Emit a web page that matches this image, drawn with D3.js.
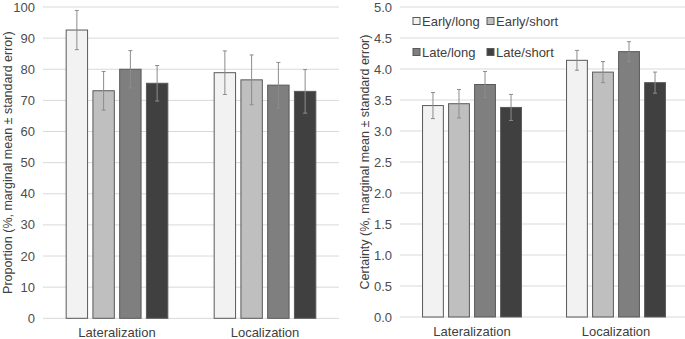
<!DOCTYPE html>
<html>
<head>
<meta charset="utf-8">
<script src="https://cdn.jsdelivr.net/npm/d3@7"></script>
<style>
  body { margin: 0; background: #fff; }
  text { font-family: "Liberation Sans", Arial, sans-serif; }
</style>
</head>
<body>
<div id="chart"></div>
<script>
// data
var categories = ["Lateralization", "Localization"];
var series = ["Early/long", "Early/short", "Late/long", "Late/short"];
var proportionMean = [[92.6, 73.1, 80.0, 75.5], [78.9, 76.6, 74.9, 72.9]];
var proportionSE = [[6.3, 6.2, 6.0, 5.7], [7.0, 8.0, 7.3, 7.0]];
var certaintyMean = [[3.41, 3.44, 3.75, 3.38], [4.14, 3.95, 4.28, 3.78]];
var certaintySE = [[0.21, 0.23, 0.21, 0.21], [0.16, 0.17, 0.16, 0.17]];
var proportionTicks = [0, 10, 20, 30, 40, 50, 60, 70, 80, 90, 100];
var certaintyTicks = [0, 0.5, 1, 1.5, 2, 2.5, 3, 3.5, 4, 4.5, 5];

var fills = ["#f2f2f2", "#bfbfbf", "#7f7f7f", "#404040"];

var svg = d3.select("#chart").append("svg")
  .attr("width", 685)
  .attr("height", 339);

function drawPanel(opts) {
  var g = svg.append("g");

  var y = d3.scaleLinear().domain(opts.domain).range([opts.bottom, opts.top]);
  var x0 = d3.scaleBand().domain(categories).range([opts.left, opts.right]);
  var bw = x0.bandwidth();
  var x1 = d3.scaleBand().domain(series)
    .range([bw * 0.1385, bw * 0.8615])
    .paddingInner(0.2).paddingOuter(0.1);

  // gridlines
  g.selectAll(".grid")
    .data(opts.ticks).enter()
    .append("line")
      .attr("x1", opts.left)
      .attr("x2", opts.right)
      .attr("y1", function(d) { return y(d); })
      .attr("y2", function(d) { return y(d); })
      .style("stroke", "#d9d9d9")
      .style("stroke-width", 1);

  // y tick labels
  g.selectAll(".ylab")
    .data(opts.ticks).enter()
    .append("text")
      .attr("x", opts.left - 8)
      .attr("y", function(d) { return y(d); })
      .attr("dy", "0.35em")
      .attr("text-anchor", "end")
      .style("font-size", "13px")
      .style("fill", "#4d4d4d")
      .text(opts.fmt);

  // bars
  var groups = g.selectAll(".grp")
    .data(categories).enter()
    .append("g")
      .attr("transform", function(d) { return "translate(" + x0(d) + ",0)"; });

  function rows(c, i) {
    return series.map(function(s, j) {
      return { s: s, j: j, v: opts.mean[i][j], e: opts.se[i][j] };
    });
  }

  groups.selectAll("rect")
    .data(rows).enter()
    .append("rect")
      .attr("x", function(d) { return x1(d.s); })
      .attr("width", x1.bandwidth())
      .attr("y", function(d) { return y(d.v); })
      .attr("height", function(d) { return y(opts.domain[0]) - y(d.v); })
      .style("fill", function(d) { return fills[d.j]; })
      .style("stroke", "#595959")
      .style("stroke-width", 1);

  // error bars
  var eb = groups.selectAll(".err")
    .data(rows).enter()
    .append("g")
      .attr("transform", function(d) { return "translate(" + (x1(d.s) + x1.bandwidth() / 2) + ",0)"; });

  eb.append("line")
    .attr("y1", function(d) { return y(d.v - d.e); })
    .attr("y2", function(d) { return y(d.v + d.e); })
    .style("stroke", "#8c8c8c").style("stroke-width", 1);
  eb.append("line")
    .attr("x1", -2).attr("x2", 2)
    .attr("y1", function(d) { return y(d.v + d.e); })
    .attr("y2", function(d) { return y(d.v + d.e); })
    .style("stroke", "#8c8c8c").style("stroke-width", 1);
  eb.append("line")
    .attr("x1", -2).attr("x2", 2)
    .attr("y1", function(d) { return y(d.v - d.e); })
    .attr("y2", function(d) { return y(d.v - d.e); })
    .style("stroke", "#8c8c8c").style("stroke-width", 1);

  // category labels
  g.selectAll(".xlab")
    .data(categories).enter()
    .append("text")
      .attr("x", function(d) { return x0(d) + bw / 2; })
      .attr("y", opts.bottom + 19)
      .attr("text-anchor", "middle")
      .style("font-size", "13px")
      .style("fill", "#404040")
      .text(function(d) { return d; });

  // axis title
  g.append("text")
    .attr("transform", "translate(" + opts.titleX + "," + ((opts.top + opts.bottom) / 2) + ") rotate(-90)")
    .attr("text-anchor", "middle")
    .style("font-size", "12.5px")
    .style("fill", "#404040")
    .text(opts.title);

  return g;
}

drawPanel({
  left: 43, right: 339, top: 7, bottom: 318.3,
  domain: [0, 100], ticks: proportionTicks,
  fmt: function(d) { return d3.format("d")(d); },
  mean: proportionMean, se: proportionSE,
  titleX: 12, title: "Proportion (%, marginal mean \u00b1 standard error)"
});

var right = drawPanel({
  left: 400, right: 688, top: 7, bottom: 317,
  domain: [0, 5], ticks: certaintyTicks,
  fmt: function(d) { return d3.format(".1f")(d); },
  mean: certaintyMean, se: certaintySE,
  titleX: 369, title: "Certainty (%, marginal mean \u00b1 standard error)"
});

// legend (two rows inside the right panel)
var legPos = [[413, 21], [487, 21], [413, 52], [487, 52]];
var leg = right.selectAll(".leg")
  .data(series).enter()
  .append("g")
    .attr("transform", function(d, i) { return "translate(" + legPos[i][0] + "," + legPos[i][1] + ")"; });
leg.append("rect")
  .attr("x", 0).attr("y", -3.5)
  .attr("width", 7).attr("height", 7)
  .style("fill", function(d, i) { return fills[i]; })
  .style("stroke", "#595959").style("stroke-width", 1);
leg.append("text")
  .attr("x", 9).attr("dy", "0.35em")
  .style("font-size", "13px")
  .style("fill", "#404040")
  .text(function(d) { return d; });
</script>
</body>
</html>
